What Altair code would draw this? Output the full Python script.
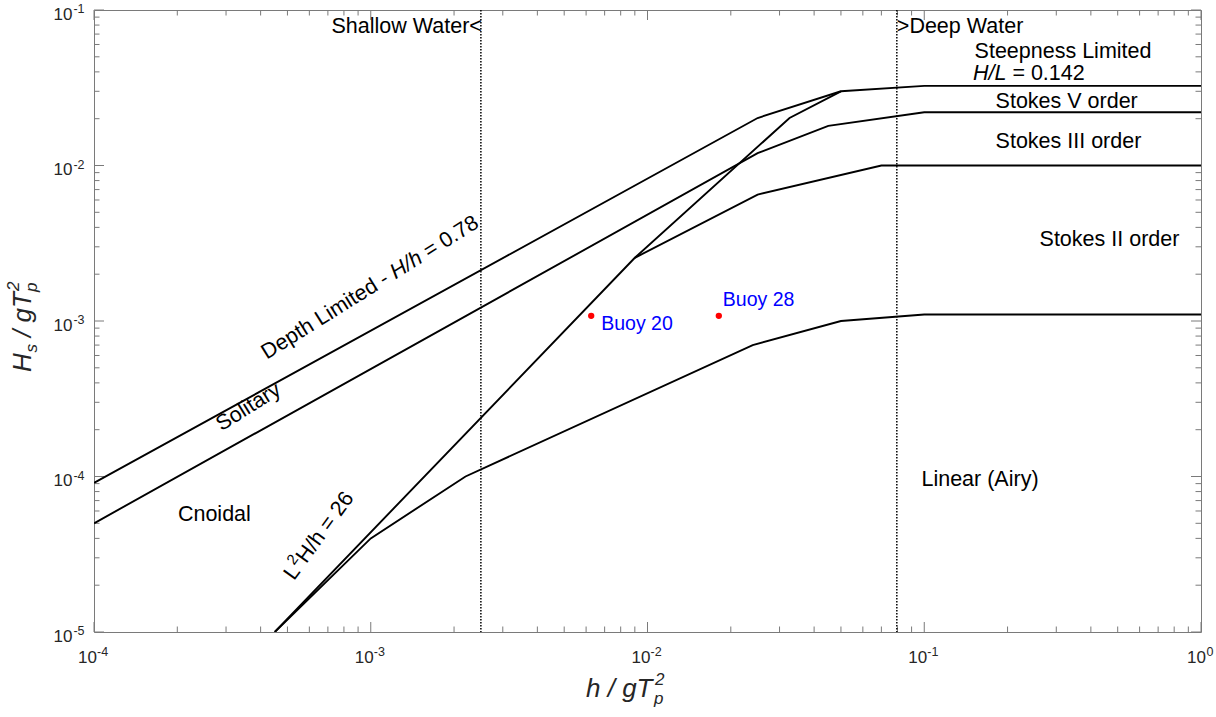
import altair as alt
import pandas as pd

W, H = 1107, 622
FONT = "Liberation Sans"
TXT = "#262626"
FRAME = "#7a7a7a"

# ---- boundary curves: x = h/gT_p^2, y = H_s/gT_p^2 ----
depth_x = [1e-4, 0.025, 0.05, 0.1, 1.0]
depth_y = [9.1e-5, 0.0202, 0.030, 0.0325, 0.0325]
solitary_x = [1e-4, 0.025, 0.045, 0.1, 1.0]
solitary_y = [5.0e-5, 0.012, 0.018, 0.022, 0.022]
ursell_x = [4.5e-4, 0.009, 0.0326, 0.05]
ursell_y = [1e-5, 2.55e-3, 0.0202, 0.030]
stokes3_x = [0.009, 0.025, 0.07, 1.0]
stokes3_y = [2.55e-3, 0.0065, 0.01, 0.01]
linear_x = [4.5e-4, 1e-3, 0.0022, 0.024, 0.05, 0.1, 1.0]
linear_y = [1e-5, 4.0e-5, 1e-4, 7e-4, 1e-3, 1.1e-3, 1.1e-3]

# water depth limits
limit_x = [0.0025, 0.0796]

# buoys
buoy_names = ["Buoy 20", "Buoy 28"]
buoy_x = [6.26e-3, 0.0181]
buoy_y = [1.08e-3, 1.08e-3]

# ticks
x_decades = [1e-4, 1e-3, 1e-2, 1e-1, 1.0]
x_exponents = ["-4", "-3", "-2", "-1", "0"]
y_decades = [1e-5, 1e-4, 1e-3, 1e-2, 1e-1]
y_exponents = ["-5", "-4", "-3", "-2", "-1"]
multipliers = [2, 3, 4, 5, 6, 7, 8, 9]

xs = alt.Scale(type="log", domain=[1e-4, 1.0], nice=False)
ys = alt.Scale(type="log", domain=[1e-5, 1e-1], nice=False)
X = lambda f="x": alt.X(f"{f}:Q", scale=xs, axis=None)
Y = lambda f="y": alt.Y(f"{f}:Q", scale=ys, axis=None)

rows = []
for name, xv, yv in [("depth", depth_x, depth_y), ("solitary", solitary_x, solitary_y),
                     ("ursell", ursell_x, ursell_y), ("stokes3", stokes3_x, stokes3_y),
                     ("linear", linear_x, linear_y)]:
    for i, (a, b) in enumerate(zip(xv, yv)):
        rows.append({"series": name, "i": i, "x": a, "y": b})
curves = alt.Chart(pd.DataFrame(rows)).mark_line(color="black", strokeWidth=1.9, clip=True).encode(
    x=X(), y=Y(), detail="series:N", order="i:Q")

vlines = alt.Chart(pd.DataFrame({"x": limit_x})).mark_rule(
    color="black", strokeWidth=1.5, strokeDash=[1.5, 1.5]).encode(x=X(), y=alt.value(0), y2=alt.value(H))

buoys_df = pd.DataFrame({"name": buoy_names, "x": buoy_x, "y": buoy_y})
buoy_pts = alt.Chart(buoys_df).mark_point(filled=True, color="#ff0000", size=40, opacity=1).encode(x=X(), y=Y())
buoy_lab1 = alt.Chart(buoys_df).transform_filter(alt.datum.name == "Buoy 20").mark_text(
    font=FONT, fontSize=19.5, color="#0000ff", align="left", baseline="alphabetic", dx=10, dy=14).encode(
    x=X(), y=Y(), text="name:N")
buoy_lab2 = alt.Chart(buoys_df).transform_filter(alt.datum.name == "Buoy 28").mark_text(
    font=FONT, fontSize=19.5, color="#0000ff", align="left", baseline="alphabetic", dx=4, dy=-9.5).encode(
    x=X(), y=Y(), text="name:N")

# ---- ticks (inward, on all four sides) ----
minor_x = [d * m for d in x_decades[:-1] for m in multipliers]
minor_y = [d * m for d in y_decades[:-1] for m in multipliers]
maj_len, min_len = 10, 5.5
tick_layers = []
for vals, ln in [(x_decades, maj_len), (minor_x, min_len)]:
    df = pd.DataFrame({"x": vals})
    tick_layers.append(alt.Chart(df).mark_rule(color=FRAME, strokeWidth=1).encode(
        x=X(), y=alt.value(H), y2=alt.value(H - ln)))
    tick_layers.append(alt.Chart(df).mark_rule(color=FRAME, strokeWidth=1).encode(
        x=X(), y=alt.value(0), y2=alt.value(ln)))
for vals, ln in [(y_decades, maj_len), (minor_y, min_len)]:
    df = pd.DataFrame({"y": vals})
    tick_layers.append(alt.Chart(df).mark_rule(color=FRAME, strokeWidth=1).encode(
        y=Y(), x=alt.value(0), x2=alt.value(ln)))
    tick_layers.append(alt.Chart(df).mark_rule(color=FRAME, strokeWidth=1).encode(
        y=Y(), x=alt.value(W), x2=alt.value(W - ln)))

xlab_df = pd.DataFrame({"x": x_decades, "e": x_exponents, "b": ["10"] * 5})
xl_main = alt.Chart(xlab_df).transform_filter(alt.datum.e != "0")
xl_last = alt.Chart(xlab_df).transform_filter(alt.datum.e == "0")
xlabels = [
    xl_main.mark_text(font=FONT, fontSize=17, color=TXT, align="right", baseline="alphabetic", dx=3).encode(
        x=X(), y=alt.value(H + 31), text="b:N"),
    xl_main.mark_text(font=FONT, fontSize=12.5, color=TXT, align="left", baseline="alphabetic", dx=3).encode(
        x=X(), y=alt.value(H + 23.5), text="e:N"),
    xl_last.mark_text(font=FONT, fontSize=17, color=TXT, align="right", baseline="alphabetic", dx=5).encode(
        x=X(), y=alt.value(H + 31), text="b:N"),
    xl_last.mark_text(font=FONT, fontSize=12.5, color=TXT, align="left", baseline="alphabetic", dx=5.5).encode(
        x=X(), y=alt.value(H + 23.5), text="e:N"),
]
ylab_df = pd.DataFrame({"y": y_decades, "e": y_exponents, "b": ["10"] * 5})
ylabels = [
    alt.Chart(ylab_df).mark_text(font=FONT, fontSize=17, color=TXT, align="right", baseline="alphabetic", dy=9.5).encode(
        y=Y(), x=alt.value(-21.5), text="b:N"),
    alt.Chart(ylab_df).mark_text(font=FONT, fontSize=12.5, color=TXT, align="right", baseline="alphabetic", dy=3).encode(
        y=Y(), x=alt.value(-9.5), text="e:N"),
]

# ---- region annotations ----
def note(t, x, y, **kw):
    df = pd.DataFrame({"t": [t], "x": [x], "y": [y]})
    opts = dict(font=FONT, fontSize=21.5, color="black", baseline="alphabetic", align="left")
    opts.update(kw)
    return alt.Chart(df).mark_text(**opts).encode(x=X(), y=Y(), text="t:N")

notes = [
    note("Shallow Water<", 0.0025, 0.0709, align="right", dx=1),
    note(">Deep Water", 0.0796, 0.0709),
    note("Steepness Limited", 0.152, 0.0489),
    note("H/L", 0.15, 0.0355, fontStyle="italic"),
    note("= 0.142", 0.15, 0.0355, dx=39.4),
    note("Stokes V order", 0.181, 0.0234),
    note("Stokes III order", 0.181, 0.0129),
    note("Stokes II order", 0.261, 3.04e-3),
    note("Linear (Airy)", 0.0977, 8.73e-5),
    note("Cnoidal", 2.01e-4, 5.2e-5),
    note("Solitary", 3.72e-4, 2.58e-4, align="center", angle=328),
    note("Depth Limited -", 4.21e-4, 5.63e-4, angle=328),
    note("H/h", 4.21e-4, 5.63e-4, angle=328, dx=151.7, fontStyle="italic"),
    note("= 0.78", 4.21e-4, 5.63e-4, angle=328, dx=191.2),
    note("L", 5.28e-4, 2.12e-5, angle=306),
    note("2", 5.28e-4, 2.12e-5, angle=306, dx=12.5, dy=-9, fontSize=15),
    note("H/h = 26", 5.28e-4, 2.12e-5, angle=306, dx=21),
]

# ---- axis titles (pieces for sub/superscripts) ----
def piece(t, px, py, **kw):
    opts = dict(font=FONT, fontSize=26, color=TXT, baseline="alphabetic", align="left", fontStyle="italic")
    opts.update(kw)
    return alt.Chart(pd.DataFrame({"t": [t]})).mark_text(**opts).encode(
        x=alt.value(px), y=alt.value(py), text="t:N")

xt_x, xt_y = 492, 687
titles = [
    piece("h / gT", xt_x, xt_y),
    piece("p", xt_x, xt_y, dx=68, dy=7, fontSize=17),
    piece("2", xt_x, xt_y, dx=69, dy=-12, fontSize=17),
]
yt_x, yt_y = -63, 362
titles += [
    piece("H", yt_x, yt_y, angle=270),
    piece("s", yt_x, yt_y, angle=270, dx=19.5, dy=6, fontSize=17),
    piece("/ gT", yt_x, yt_y, angle=270, dx=35),
    piece("p", yt_x, yt_y, angle=270, dx=80, dy=6, fontSize=17),
    piece("2", yt_x, yt_y, angle=270, dx=81, dy=-12, fontSize=17),
]

chart = alt.layer(
    *tick_layers, vlines, curves, buoy_pts, buoy_lab1, buoy_lab2,
    *xlabels, *ylabels, *notes, *titles
).properties(
    width=W, height=H,
    padding={"left": 94, "top": 10, "right": 15, "bottom": 85},
    autosize=alt.AutoSizeParams(type="none"),
).configure_view(stroke=FRAME, strokeWidth=1)

chart.save("out.html", embed_options={"renderer": "svg", "actions": False})
